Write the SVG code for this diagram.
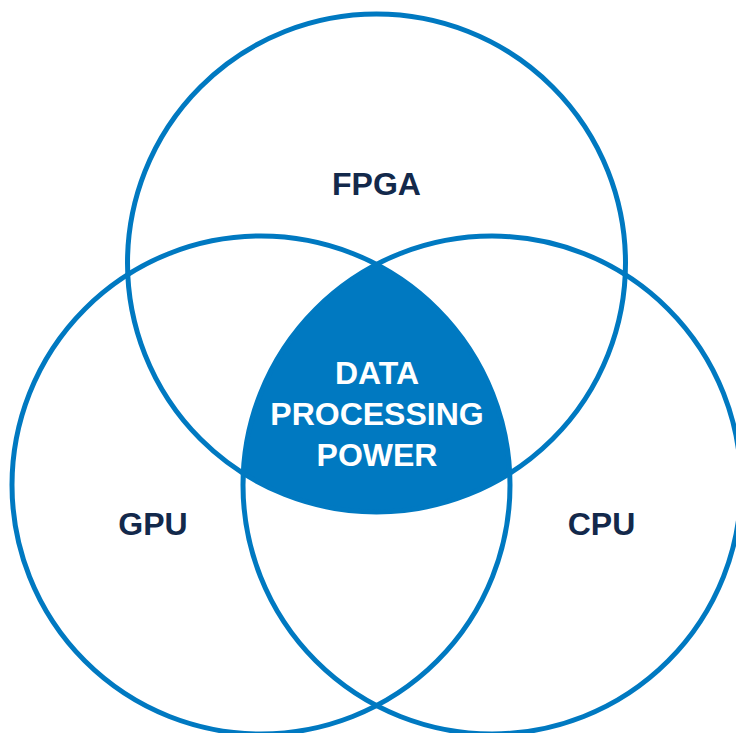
<svg xmlns="http://www.w3.org/2000/svg" width="736" height="733" viewBox="0 0 736 733">
  <style>
    .ring { fill: none; stroke: #0079c1; stroke-width: 5; }
    .core { fill: #0079c1; }
    .label { font-family: "Liberation Sans", Arial, sans-serif; font-weight: bold; font-size: 32px; text-anchor: middle; fill: #13294b; }
    .core-label { font-family: "Liberation Sans", Arial, sans-serif; font-weight: bold; font-size: 32px; text-anchor: middle; fill: #ffffff; }
  </style>
  <rect width="736" height="733" fill="#ffffff"/>

  <!-- shared region of all three sets -->
  <g id="overlap">
    <path class="core" d="M 376.5 264.4 A 249 249 0 0 0 243.25 473.4 A 249 249 0 0 0 509.75 473.4 A 249 249 0 0 0 376.5 264.4 Z"/>
  </g>

  <g id="fpga">
    <circle class="ring" cx="376.5" cy="263" r="249"/>
    <text class="label" x="376.5" y="195">FPGA</text>
  </g>

  <g id="gpu">
    <circle class="ring" cx="261" cy="485" r="249"/>
    <text class="label" x="153" y="535">GPU</text>
  </g>

  <g id="cpu">
    <circle class="ring" cx="492" cy="485" r="249"/>
    <text class="label" x="601.5" y="535">CPU</text>
  </g>

  <g id="overlap-label">
    <text class="core-label" x="377" y="384">DATA</text>
    <text class="core-label" x="377" y="425">PROCESSING</text>
    <text class="core-label" x="377" y="466">POWER</text>
  </g>
</svg>
